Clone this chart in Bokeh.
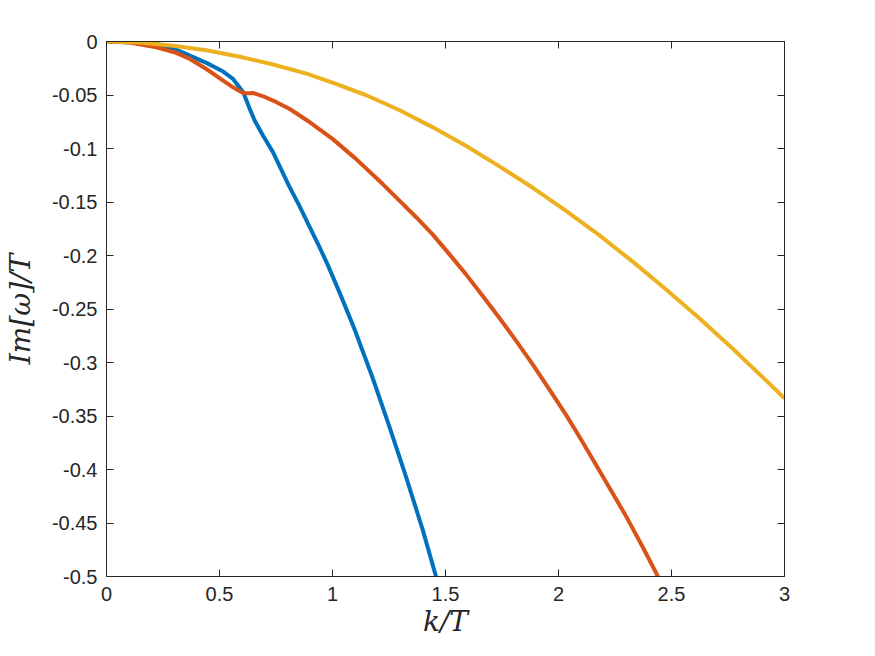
from bokeh.plotting import figure
from bokeh.models import Range1d, FixedTicker, LinearAxis, CustomJSTickFormatter
from bokeh.embed import file_html
from bokeh.resources import INLINE

# ---- data ----
k_blue = [0, 0.10, 0.221, 0.295, 0.369, 0.442, 0.516, 0.56, 0.605, 0.634, 0.656, 0.693,
          0.737, 0.807, 0.853, 0.896, 0.941, 0.978, 1.03, 1.095, 1.177, 1.251, 1.324,
          1.398, 1.458]
im_blue = [0, -0.0006, -0.0023, -0.0064, -0.0132, -0.020, -0.0281, -0.035, -0.0475, -0.063,
           -0.074, -0.088, -0.1036, -0.1347, -0.1534, -0.172, -0.1915, -0.2083, -0.2340,
           -0.2675, -0.3140, -0.3595, -0.4060, -0.4555, -0.5]

k_red = [0, 0.10, 0.221, 0.30, 0.369, 0.442, 0.516, 0.56, 0.604, 0.63, 0.649, 0.693,
         0.75, 0.811, 0.90, 1.0, 1.10, 1.221, 1.295, 1.369, 1.442, 1.516, 1.59, 1.664,
         1.737, 1.811, 1.885, 1.958, 2.032, 2.10, 2.15, 2.224, 2.298, 2.372, 2.44]
im_red = [0, -0.001, -0.0054, -0.010, -0.0163, -0.0257, -0.0366, -0.0428, -0.0481, -0.0483,
          -0.0481, -0.0512, -0.0565, -0.0631, -0.0755, -0.0910, -0.109, -0.133, -0.1485,
          -0.1640, -0.180, -0.1985, -0.2174, -0.2376, -0.2580, -0.2793, -0.3015, -0.3247,
          -0.3485, -0.3720, -0.3900, -0.4165, -0.4433, -0.4722, -0.5]

k_yellow = [0, 0.147, 0.295, 0.442, 0.59, 0.737, 0.885, 1.0, 1.147, 1.295, 1.442, 1.59,
            1.737, 1.885, 2.032, 2.18, 2.327, 2.475, 2.622, 2.77, 2.917, 3.0]
im_yellow = [0, -0.0010, -0.0040, -0.0082, -0.0142, -0.0215, -0.0300, -0.0385, -0.0500,
             -0.0640, -0.0800, -0.0975, -0.1165, -0.1365, -0.1580, -0.1810, -0.2055,
             -0.2315, -0.2585, -0.2870, -0.3165, -0.3335]

xticks = [0, 0.5, 1, 1.5, 2, 2.5, 3]
xtick_labels = ["0", "0.5", "1", "1.5", "2", "2.5", "3"]
yticks = [0, -0.05, -0.1, -0.15, -0.2, -0.25, -0.3, -0.35, -0.4, -0.45, -0.5]
ytick_labels = ["0", "-0.05", "-0.1", "-0.15", "-0.2", "-0.25", "-0.3", "-0.35", "-0.4",
                "-0.45", "-0.5"]

x_label = "k/T"
y_label = "Im[ω]/T"

# ---- figure ----
AX = "#262626"
p = figure(frame_width=678, frame_height=535,
           x_range=Range1d(0, 3), y_range=Range1d(-0.5, 0),
           output_backend="svg", toolbar_location=None,
           min_border_left=106, min_border_right=75,
           min_border_top=41, min_border_bottom=64)
p.background_fill_color = "white"
p.border_fill_color = "white"
p.outline_line_color = AX
p.xgrid.visible = False
p.ygrid.visible = False

p.line(k_blue, im_blue, line_color="#0072BD", line_width=4, line_join="round")
p.line(k_red, im_red, line_color="#D95319", line_width=4, line_join="round")
p.line(k_yellow, im_yellow, line_color="#EDB120", line_width=4, line_join="round")


def style(ax):
    ax.axis_line_color = AX
    ax.axis_line_width = 1
    ax.major_tick_line_color = AX
    ax.major_tick_in = 7
    ax.major_tick_out = 0
    ax.minor_tick_line_color = None
    ax.major_label_text_font = "Liberation Sans"
    ax.major_label_text_font_size = "20px"
    ax.major_label_text_color = AX
    ax.axis_label_text_font = "DejaVu Serif"
    ax.axis_label_text_font_style = "italic"
    ax.axis_label_text_font_size = "28px"
    ax.axis_label_text_color = AX


xa = p.xaxis[0]
xa.ticker = FixedTicker(ticks=xticks)
xa.major_label_overrides = dict(zip(xticks, xtick_labels))
xa.axis_label = x_label
style(xa)
xa.major_label_standoff = 10
xa.axis_label_standoff = 1

ya = p.yaxis[0]
ya.ticker = FixedTicker(ticks=yticks)
ya.major_label_overrides = dict(zip(yticks, ytick_labels))
ya.axis_label = y_label
style(ya)
ya.major_label_standoff = 9
ya.axis_label_standoff = 12

empty = CustomJSTickFormatter(code="return ''")
top = LinearAxis(ticker=FixedTicker(ticks=xticks), formatter=empty)
style(top)
p.add_layout(top, "above")
right = LinearAxis(ticker=FixedTicker(ticks=yticks), formatter=empty)
style(right)
p.add_layout(right, "right")

open("out.html", "w").write(file_html(p, INLINE))
